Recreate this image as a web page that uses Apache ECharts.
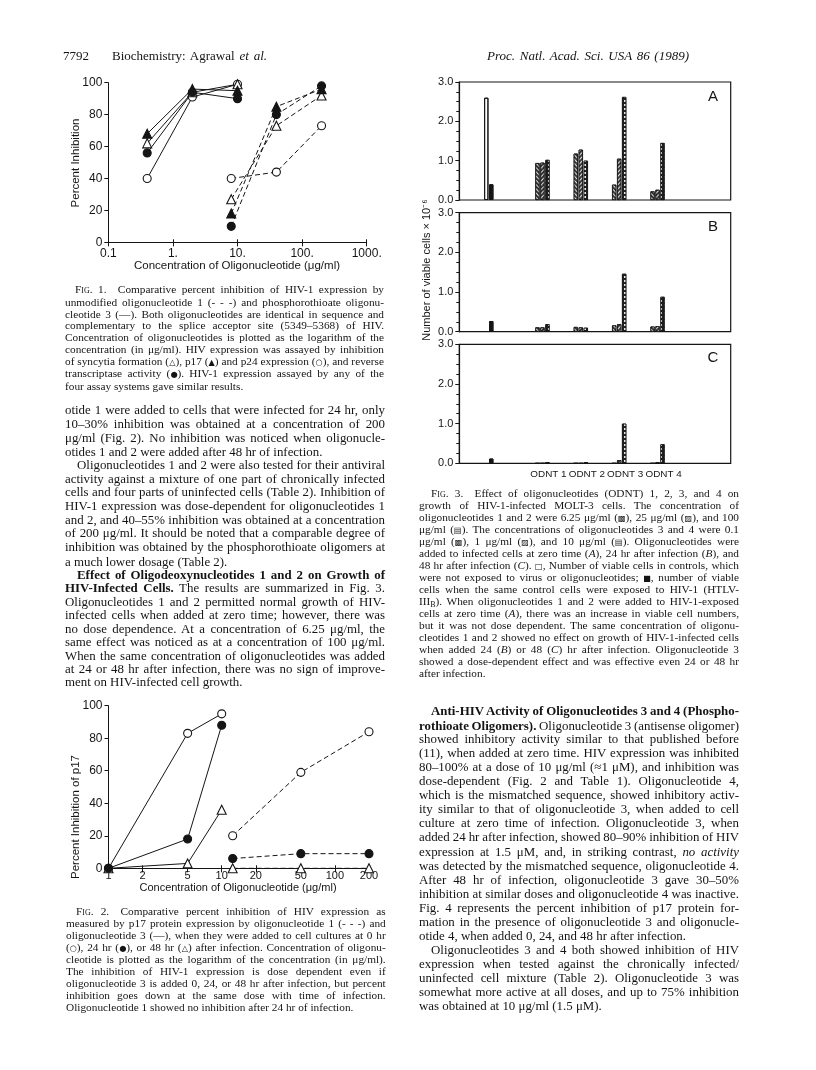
<!DOCTYPE html>
<html><head><meta charset="utf-8">
<script src="https://cdn.jsdelivr.net/npm/echarts@6/dist/echarts.min.js"></script>
<style>
html,body{margin:0;padding:0;background:#fff;}
#page{position:relative;width:816px;height:1070px;overflow:hidden;background:#fff;}
#chart{position:absolute;left:0;top:0;width:816px;height:1070px;}
.ln{position:absolute;white-space:nowrap;font-family:"Liberation Serif","Times New Roman",serif;color:#141414;line-height:1;transform-origin:0 50%;}
.sc{font-variant:small-caps;}
.sy{font-family:"DejaVu Sans",sans-serif;font-size:0.72em;}
sub{font-size:0.7em;vertical-align:-0.2em;line-height:0;}
</style></head><body><div id="page"><div id="chart"></div></div>
<script>
// ---------------- DATA ----------------
// Fig. 1 (log x axis, % inhibition)
const fig1XTicks = [0.1, 1, 10, 100, 1000];
const fig1Oligo3Conc = [0.4, 2, 10];       // phosphorothioate oligonucleotide 3 (solid)
const fig1Oligo1Conc = [8, 40, 200];       // unmodified oligonucleotide 1 (dashed)
const fig1Oligo3P17 = [68, 96, 95];        // filled triangle
const fig1Oligo3Syncytia = [62, 94, 99];   // open triangle
const fig1Oligo3RT = [56, 94, 90];         // filled circle
const fig1Oligo3P24 = [40, 91, 99];        // open circle
const fig1Oligo1P17 = [18, 85, 96];
const fig1Oligo1Syncytia = [27, 73, 92];
const fig1Oligo1RT = [10, 80, 98];
const fig1Oligo1P24 = [40, 44, 73];

// Fig. 2 (log x axis, % inhibition of p17)
const fig2XTicks = [1, 2, 5, 10, 20, 50, 100, 200];
const fig2Oligo3Conc = [1, 5, 10];
const fig2Oligo1Conc = [12.5, 50, 200];
const fig2Oligo3Hr0 = [0, 83, 95];     // open circle
const fig2Oligo3Hr24 = [0, 18, 88];    // filled circle
const fig2Oligo3Hr48 = [0, 3, 36];     // open triangle
const fig2Oligo1Hr0 = [20, 59, 84];
const fig2Oligo1Hr24 = [6, 9, 9];
const fig2Oligo1Hr48 = [0, 0, 0];

// Fig. 3 (viable cells x 10^-6)
const fig3Groups = ['Control', 'ODNT 1', 'ODNT 2', 'ODNT 3', 'ODNT 4'];
const fig3Panels = ['A', 'B', 'C'];
const fig3UninfectedControl = [2.6, null, null];
const fig3InfectedControl = [0.4, 0.27, 0.12];
const fig3LowDose = [   // ODNT 1..4
  [0.94, 1.18, 0.39, 0.22],
  [0.11, 0.12, 0.16, 0.13],
  [0.00, 0.00, 0.00, 0.00]
];
const fig3MidDose = [
  [0.95, 1.28, 1.05, 0.26],
  [0.11, 0.11, 0.19, 0.14],
  [0.00, 0.00, 0.08, 0.03]
];
const fig3HighDose = [
  [1.02, 1.00, 2.62, 1.45],
  [0.19, 0.10, 1.46, 0.88],
  [0.03, 0.03, 1.00, 0.48]
];

// ---------------- CHART ----------------
const INK = '#151515';
const FONT = '"Liberation Sans", Arial, Helvetica, sans-serif';
const chart = echarts.init(document.getElementById('chart'), null, {renderer: 'canvas', width: 816, height: 1070});

function pts(xs, ys) { return xs.map((x, i) => [x, ys[i]]); }
function lineSeries(xs, ys, shape, filled, dashed, ai) {
  return {
    type: 'line', xAxisIndex: ai, yAxisIndex: ai, data: pts(xs, ys),
    symbol: shape, symbolSize: shape === 'triangle' ? 9 : 8,
    lineStyle: {color: INK, width: 1, type: dashed ? [5, 3] : 'solid'},
    itemStyle: {color: filled ? INK : '#fff', borderColor: INK, borderWidth: 1.1},
    z: 3, silent: true
  };
}
const labelStyle = {fontSize: 12, fontFamily: FONT, color: INK};

// Fig 3 slot layout (category slots of the bar grids)
const SLOT_COUNT = 21;
const SLOT_OF_GROUP = [2, 6, 9, 12, 15];
const slotLabels = Array.from({length: SLOT_COUNT}, (_, i) => {
  const g = SLOT_OF_GROUP.indexOf(i); return g >= 0 ? fig3Groups[g] : ' ' + i;
});
const lowDecal = {symbol: 'rect', symbolSize: 1, dashArrayX: [1, 0], dashArrayY: [1, 1.6], rotation: Math.PI / 4, color: 'rgba(255,255,255,0.85)'};
const midDecal = {symbol: 'rect', symbolSize: 1, dashArrayX: [1, 0], dashArrayY: [1, 1.6], rotation: -Math.PI / 4, color: 'rgba(255,255,255,0.85)'};
const highDecal = {symbol: 'rect', symbolSize: 1, dashArrayX: [[2, 1.3]], dashArrayY: [1.3, 1.2], color: 'rgba(255,255,255,0.9)'};
const noDecal = {symbol: 'rect', symbolSize: 1, dashArrayX: [1, 0], dashArrayY: [1, 0], color: 'rgba(0,0,0,0)'};
function slotData(ctrl, ctrlStyle, vals) {
  const arr = new Array(SLOT_COUNT).fill(null);
  if (ctrl != null) arr[SLOT_OF_GROUP[0]] = {value: ctrl, itemStyle: ctrlStyle};
  vals.forEach((v, i) => { arr[SLOT_OF_GROUP[i + 1]] = v; });
  return arr;
}

const frameTops = [82, 212.7, 344.3];
const frameH = [118, 119, 119];
const grids = [
  {left: 108.3, top: 82.7, width: 258.4, height: 159.6},
  {left: 108.5, top: 705.7, width: 260.5, height: 162.6}
];
frameTops.forEach((t, p) => grids.push({left: 459.3, top: t, width: 271.4, height: frameH[p], show: true, borderColor: INK, borderWidth: 1.2}));
frameTops.forEach((t, p) => grids.push({left: 459.3, top: t, width: 268.6, height: frameH[p]}));
grids.forEach(g => { g.outerBoundsMode = 'none'; g.containLabel = false; });

const xAxes = [
  {gridIndex: 0, type: 'log', logBase: 10, min: 0.1, max: 1000, position: 'bottom',
   axisLine: {show: true, onZero: false, lineStyle: {color: INK, width: 1}},
   axisTick: {show: true, length: 4, lineStyle: {color: INK}},
   axisLabel: Object.assign({margin: 5, formatter: v => v < 1 ? String(v) : v + '.', customValues: fig1XTicks}, labelStyle),
   splitLine: {show: false}, minorTick: {show: false}},
  {gridIndex: 0, type: 'log', logBase: 10, min: 0.1, max: 1000, position: 'bottom', offset: 0,
   axisLine: {show: false}, axisLabel: {show: false}, splitLine: {show: false},
   axisTick: {show: true, inside: true, length: 3, lineStyle: {color: INK}, customValues: fig1XTicks}},
  {gridIndex: 1, type: 'log', logBase: 10, min: 1, max: 200, position: 'bottom',
   axisLine: {show: true, onZero: false, lineStyle: {color: INK, width: 1}},
   axisTick: {show: true, length: 4, lineStyle: {color: INK}, customValues: fig2XTicks},
   axisLabel: Object.assign({margin: 2.5, customValues: fig2XTicks, formatter: v => String(Math.round(v))}, labelStyle, {fontSize: 11}),
   splitLine: {show: false}, minorTick: {show: false}},
  {gridIndex: 1, type: 'log', logBase: 10, min: 1, max: 200, position: 'bottom', offset: 0,
   axisLine: {show: false}, axisLabel: {show: false}, splitLine: {show: false},
   axisTick: {show: true, inside: true, length: 3, lineStyle: {color: INK}, customValues: fig2XTicks}}
];
const yAxes = [
  {gridIndex: 0, type: 'value', min: 0, max: 100, interval: 20,
   axisLine: {show: true, lineStyle: {color: INK, width: 1}}, axisTick: {show: true, length: 4, lineStyle: {color: INK}},
   axisLabel: Object.assign({margin: 6}, labelStyle), splitLine: {show: false}},
  {gridIndex: 1, type: 'value', min: 0, max: 100, interval: 20,
   axisLine: {show: true, lineStyle: {color: INK, width: 1}}, axisTick: {show: true, length: 4, lineStyle: {color: INK}},
   axisLabel: Object.assign({margin: 6}, labelStyle), splitLine: {show: false}}
];
fig3Panels.forEach((p, i) => {
  xAxes.push({gridIndex: 2 + i, type: 'value', min: 0, max: 1, show: false});
  yAxes.push({gridIndex: 2 + i, type: 'value', min: 0, max: 3, interval: 1,
    axisLine: {show: true, lineStyle: {color: INK, width: 1.2}},
    axisTick: {show: true, length: 4, lineStyle: {color: INK}},
    minorTick: {show: true, splitNumber: 4, length: 3, lineStyle: {color: INK}},
    axisLabel: Object.assign({margin: 6, formatter: v => v.toFixed(1)}, labelStyle, {fontSize: 11}),
    splitLine: {show: false}});
});
fig3Panels.forEach((p, i) => {
  xAxes.push({gridIndex: 5 + i, type: 'category', data: slotLabels, boundaryGap: true,
    axisLine: {show: false}, axisTick: {show: false},
    axisLabel: Object.assign({show: i === 2, interval: 0, margin: 6, padding: [0, 0, 0, 12],
      formatter: v => v.startsWith('ODNT') ? v : ''}, labelStyle, {fontSize: 9.9})});
  yAxes.push({gridIndex: 5 + i, type: 'value', min: 0, max: 3, show: false});
});

const series = [
  lineSeries(fig1Oligo3Conc, fig1Oligo3P24, 'circle', false, false, 0),
  lineSeries(fig1Oligo3Conc, fig1Oligo3Syncytia, 'triangle', false, false, 0),
  lineSeries(fig1Oligo3Conc, fig1Oligo3RT, 'circle', true, false, 0),
  lineSeries(fig1Oligo3Conc, fig1Oligo3P17, 'triangle', true, false, 0),
  lineSeries(fig1Oligo1Conc, fig1Oligo1P24, 'circle', false, true, 0),
  lineSeries(fig1Oligo1Conc, fig1Oligo1Syncytia, 'triangle', false, true, 0),
  lineSeries(fig1Oligo1Conc, fig1Oligo1RT, 'circle', true, true, 0),
  lineSeries(fig1Oligo1Conc, fig1Oligo1P17, 'triangle', true, true, 0)
];
const s2 = [
  lineSeries(fig2Oligo3Conc, fig2Oligo3Hr0, 'circle', false, false, 2),
  lineSeries(fig2Oligo3Conc, fig2Oligo3Hr48, 'triangle', false, false, 2),
  lineSeries(fig2Oligo3Conc, fig2Oligo3Hr24, 'circle', true, false, 2),
  lineSeries(fig2Oligo1Conc, fig2Oligo1Hr48, 'triangle', false, true, 2),
  lineSeries(fig2Oligo1Conc, fig2Oligo1Hr0, 'circle', false, true, 2),
  lineSeries(fig2Oligo1Conc, fig2Oligo1Hr24, 'circle', true, true, 2)
];
s2.forEach(s => { s.yAxisIndex = 1; });
series.push(...s2);

const openCtrl = {color: '#fff', decal: noDecal, borderColor: INK, borderWidth: 1};
const blackCtrl = {color: INK, decal: noDecal, borderColor: INK, borderWidth: 1};
fig3Panels.forEach((p, i) => {
  const base = {type: 'bar', xAxisIndex: 7 + i, yAxisIndex: 5 + i, barWidth: 4.3, barGap: '16%', silent: true};
  series.push(Object.assign({}, base, {data: slotData(fig3UninfectedControl[i], openCtrl, fig3LowDose[i]),
    itemStyle: {color: '#3a3a3a', borderColor: INK, borderWidth: 0.8, decal: lowDecal}}));
  series.push(Object.assign({}, base, {data: slotData(fig3InfectedControl[i], blackCtrl, fig3MidDose[i]),
    itemStyle: {color: '#3a3a3a', borderColor: INK, borderWidth: 0.8, decal: midDecal}}));
  series.push(Object.assign({}, base, {data: slotData(null, null, fig3HighDose[i]),
    itemStyle: {color: '#202020', borderColor: INK, borderWidth: 0.8, decal: highDecal}}));
});

const titleStyle = {fontSize: 11.5, fontFamily: FONT, fill: INK, align: 'center', verticalAlign: 'middle'};
const graphic = [
  {type: 'text', x: 76, y: 163, rotation: Math.PI / 2, style: Object.assign({text: 'Percent Inhibition'}, titleStyle)},
  {type: 'text', x: 237, y: 266, style: Object.assign({text: 'Concentration of Oligonucleotide (\u03bcg/ml)'}, titleStyle)},
  {type: 'text', x: 76, y: 817, rotation: Math.PI / 2, style: Object.assign({text: 'Percent Inhibition of p17'}, titleStyle)},
  {type: 'text', x: 238, y: 888.3, style: Object.assign({text: 'Concentration of Oligonucleotide (\u03bcg/ml)'}, titleStyle, {fontSize: 11})},
  {type: 'text', x: 427, y: 270, rotation: Math.PI / 2, style: Object.assign({text: 'Number of viable cells \u00d7 10\u207b\u2076'}, titleStyle, {fontSize: 11})}
];
const letterY = [97.3, 226.7, 358.3];
fig3Panels.forEach((p, i) => graphic.push({type: 'text', x: 713, y: letterY[i],
  style: Object.assign({text: p}, titleStyle, {fontSize: 15})}));

try {
  chart.setOption({animation: false, backgroundColor: 'transparent', grid: grids, xAxis: xAxes, yAxis: yAxes, series, graphic});
} catch (e) { console.error(e); }

// ---------------- PAGE TEXT ----------------
const CAP = 11.3, BODY = 12.9, HEAD = 13;
const F1 = 'F<span class="sc">ig</span>.';
const mu = '\u03bc';
const sy = s => '<span class="sy">' + s + '</span>';
const textLines = [
  [63, null, 55, HEAD, 0, '7792'],
  [112, 267, 55, HEAD, 1, 'Biochemistry: Agrawal <i>et al.</i>'],
  [487, 689, 55, HEAD, 1, '<i>Proc. Natl. Acad. Sci. USA 86 (1989)</i>'],
  [75, 384, 290, CAP, 1, F1 + ' 1.&ensp;&ensp;Comparative percent inhibition of HIV-1 expression by'],
  [65, 384, 302.3, CAP, 1, 'unmodified oligonucleotide 1 (- - -) and phosphorothioate oligonu-'],
  [65, 384, 314.3, CAP, 1, 'cleotide 3 (\u2014). Both oligonucleotides are identical in sequence and'],
  [65, 384, 326, CAP, 1, 'complementary to the splice acceptor site (5349\u20135368) of HIV.'],
  [65, 384, 338, CAP, 1, 'Concentration of oligonucleotides is plotted as the logarithm of the'],
  [65, 384, 350, CAP, 1, 'concentration (in ' + mu + 'g/ml). HIV expression was assayed by inhibition'],
  [65, 384, 362, CAP, 1, 'of syncytia formation (' + sy('\u25b3') + '), p17 (' + sy('\u25b2') + ') and p24 expression (' + sy('\u25cb') + '), and reverse'],
  [65, 384, 374, CAP, 1, 'transcriptase activity (' + sy('\u25cf') + '). HIV-1 expression assayed by any of the'],
  [65, null, 386.7, CAP, 0, 'four assay systems gave similar results.'],
  [65, 385, 410.7, BODY, 1, 'otide 1 were added to cells that were infected for 24 hr, only'],
  [65, 385, 424.3, BODY, 1, '10\u201330% inhibition was obtained at a concentration of 200'],
  [65, 385, 438, BODY, 1, mu + 'g/ml (Fig. 2). No inhibition was noticed when oligonucle-'],
  [65, null, 452, BODY, 0, 'otides 1 and 2 were added after 48 hr of infection.'],
  [77, 385, 465, BODY, 1, 'Oligonucleotides 1 and 2 were also tested for their antiviral'],
  [65, 385, 479, BODY, 1, 'activity against a mixture of one part of chronically infected'],
  [65, 385, 492.7, BODY, 1, 'cells and four parts of uninfected cells (Table 2). Inhibition of'],
  [65, 385, 506, BODY, 1, 'HIV-1 expression was dose-dependent for oligonucleotides 1'],
  [65, 385, 520, BODY, 1, 'and 2, and 40\u201355% inhibition was obtained at a concentration'],
  [65, 385, 533.3, BODY, 1, 'of 200 ' + mu + 'g/ml. It should be noted that a comparable degree of'],
  [65, 385, 547, BODY, 1, 'inhibition was obtained by the phosphorothioate oligomers at'],
  [65, null, 562.3, BODY, 0, 'a much lower dosage (Table 2).'],
  [77, 385, 575.3, BODY, 1, '<b>Effect of Oligodeoxynucleotides 1 and 2 on Growth of</b>'],
  [65, 385, 588.7, BODY, 1, '<b>HIV-Infected Cells.</b> The results are summarized in Fig. 3.'],
  [65, 385, 602.3, BODY, 1, 'Oligonucleotides 1 and 2 permitted normal growth of HIV-'],
  [65, 385, 615.7, BODY, 1, 'infected cells when added at zero time; however, there was'],
  [65, 385, 629, BODY, 1, 'no dose dependence. At a concentration of 6.25 ' + mu + 'g/ml, the'],
  [65, 385, 642.7, BODY, 1, 'same effect was noticed as at a concentration of 100 ' + mu + 'g/ml.'],
  [65, 385, 656, BODY, 1, 'When the same concentration of oligonucleotides was added'],
  [65, 385, 669.3, BODY, 1, 'at 24 or 48 hr after infection, there was no sign of improve-'],
  [65, null, 682.7, BODY, 0, 'ment on HIV-infected cell growth.'],
  [76, 385.7, 911.7, CAP, 1, F1 + ' 2.&ensp;&ensp;Comparative percent inhibition of HIV expression as'],
  [66, 385.7, 923.3, CAP, 1, 'measured by p17 protein expression by oligonucleotide 1 (- - -) and'],
  [66, 385.7, 935.3, CAP, 1, 'oligonucleotide 3 (\u2014), when they were added to cell cultures at 0 hr'],
  [66, 385.7, 947.3, CAP, 1, '(' + sy('\u25cb') + '), 24 hr (' + sy('\u25cf') + '), or 48 hr (' + sy('\u25b3') + ') after infection. Concentration of oligonu-'],
  [66, 385.7, 959.7, CAP, 1, 'cleotide is plotted as the logarithm of the concentration (in ' + mu + 'g/ml).'],
  [66, 385.7, 971.7, CAP, 1, 'The inhibition of HIV-1 expression is dose dependent even if'],
  [66, 385.7, 983.3, CAP, 1, 'oligonucleotide 3 is added 0, 24, or 48 hr after infection, but percent'],
  [66, 385.7, 995.7, CAP, 1, 'inhibition goes down at the same dose with time of infection.'],
  [66, null, 1007.7, CAP, 0, 'Oligonucleotide 1 showed no inhibition after 24 hr of infection.'],
  [431, 739, 494, CAP, 1, F1 + ' 3.&ensp;&ensp;Effect of oligonucleotides (ODNT) 1, 2, 3, and 4 on'],
  [419, 739, 506, CAP, 1, 'growth of HIV-1-infected MOLT-3 cells. The concentration of'],
  [419, 739, 518, CAP, 1, 'oligonucleotides 1 and 2 were 6.25 ' + mu + 'g/ml (' + sy('\u25a9') + '), 25 ' + mu + 'g/ml (' + sy('\u25a8') + '), and 100'],
  [419, 739, 530, CAP, 1, mu + 'g/ml (' + sy('\u25a4') + '). The concentrations of oligonucleotides 3 and 4 were 0.1'],
  [419, 739, 542, CAP, 1, mu + 'g/ml (' + sy('\u25a9') + '), 1 ' + mu + 'g/ml (' + sy('\u25a8') + '), and 10 ' + mu + 'g/ml (' + sy('\u25a4') + '). Oligonucleotides were'],
  [419, 739, 554, CAP, 1, 'added to infected cells at zero time (<i>A</i>), 24 hr after infection (<i>B</i>), and'],
  [419, 739, 566, CAP, 1, '48 hr after infection (<i>C</i>). ' + sy('\u25a1') + ', Number of viable cells in controls, which'],
  [419, 739, 578, CAP, 1, 'were not exposed to virus or oligonucleotides; ' + sy('\u25a0') + ', number of viable'],
  [419, 739, 590, CAP, 1, 'cells when the same control cells were exposed to HIV-1 (HTLV-'],
  [419, 739, 602, CAP, 1, 'III<sub>B</sub>). When oligonucleotides 1 and 2 were added to HIV-1-exposed'],
  [419, 739, 614, CAP, 1, 'cells at zero time (<i>A</i>), there was an increase in viable cell numbers,'],
  [419, 739, 626, CAP, 1, 'but it was not dose dependent. The same concentration of oligonu-'],
  [419, 739, 638, CAP, 1, 'cleotides 1 and 2 showed no effect on growth of HIV-1-infected cells'],
  [419, 739, 650, CAP, 1, 'when added 24 (<i>B</i>) or 48 (<i>C</i>) hr after infection. Oligonucleotide 3'],
  [419, 739, 662, CAP, 1, 'showed a dose-dependent effect and was effective even 24 or 48 hr'],
  [419, null, 674, CAP, 0, 'after infection.'],
  [431, 739, 711.7, BODY, 1, '<b>Anti-HIV Activity of Oligonucleotides 3 and 4 (Phospho-</b>'],
  [419, 739, 726, BODY, 1, '<b>rothioate Oligomers).</b> Oligonucleotide 3 (antisense oligomer)'],
  [419, 739, 739.3, BODY, 1, 'showed inhibitory activity similar to that published before'],
  [419, 739, 753.3, BODY, 1, '(11), when added at zero time. HIV expression was inhibited'],
  [419, 739, 767.3, BODY, 1, '80\u2013100% at a dose of 10 ' + mu + 'g/ml (\u22481 ' + mu + 'M), and inhibition was'],
  [419, 739, 781.7, BODY, 1, 'dose-dependent (Fig. 2 and Table 1). Oligonucleotide 4,'],
  [419, 739, 795, BODY, 1, 'which is the mismatched sequence, showed inhibitory activ-'],
  [419, 739, 809.3, BODY, 1, 'ity similar to that of oligonucleotide 3, when added to cell'],
  [419, 739, 823.3, BODY, 1, 'culture at zero time of infection. Oligonucleotide 3, when'],
  [419, 739, 837.7, BODY, 1, 'added 24 hr after infection, showed 80\u201390% inhibition of HIV'],
  [419, 739, 852.3, BODY, 1, 'expression at 1.5 ' + mu + 'M, and, in striking contrast, <i>no activity</i>'],
  [419, 739, 866, BODY, 1, 'was detected by the mismatched sequence, oligonucleotide 4.'],
  [419, 739, 880, BODY, 1, 'After 48 hr of infection, oligonucleotide 3 gave 30\u201350%'],
  [419, 739, 894, BODY, 1, 'inhibition at similar doses and oligonucleotide 4 was inactive.'],
  [419, 739, 908, BODY, 1, 'Fig. 4 represents the percent inhibition of p17 protein for-'],
  [419, 739, 922, BODY, 1, 'mation in the presence of oligonucleotide 3 and oligonucle-'],
  [419, null, 936, BODY, 0, 'otide 4, when added 0, 24, and 48 hr after infection.'],
  [431, 739, 950, BODY, 1, 'Oligonucleotides 3 and 4 both showed inhibition of HIV'],
  [419, 739, 964, BODY, 1, 'expression when tested against the chronically infected/'],
  [419, 739, 978, BODY, 1, 'uninfected cell mixture (Table 2). Oligonucleotide 3 was'],
  [419, 739, 992, BODY, 1, 'somewhat more active at all doses, and up to 75% inhibition'],
  [419, null, 1006, BODY, 0, 'was obtained at 10 ' + mu + 'g/ml (1.5 ' + mu + 'M).']
];
const page = document.getElementById('page');
textLines.forEach(L => {
  const [x, r, y, size, just, html] = L;
  const d = document.createElement('div');
  d.className = 'ln';
  d.style.left = x + 'px';
  d.style.fontSize = size + 'px';
  d.style.top = (y - size / 2) + 'px';
  d.innerHTML = html;
  page.appendChild(d);
  if (just && r) {
    const w = d.getBoundingClientRect().width;
    const target = r - x;
    const n = (d.textContent.match(/ /g) || []).length;
    const ws = n ? (target - w) / n : 0;
    if (n && ws >= -0.06 * size) {
      d.style.wordSpacing = ws + 'px';
    } else {
      const minWs = n ? -0.06 * size : 0;
      d.style.wordSpacing = minWs + 'px';
      const w2 = d.getBoundingClientRect().width;
      d.style.transform = 'scaleX(' + (target / w2) + ')';
    }
  }
});
</script></body></html>
